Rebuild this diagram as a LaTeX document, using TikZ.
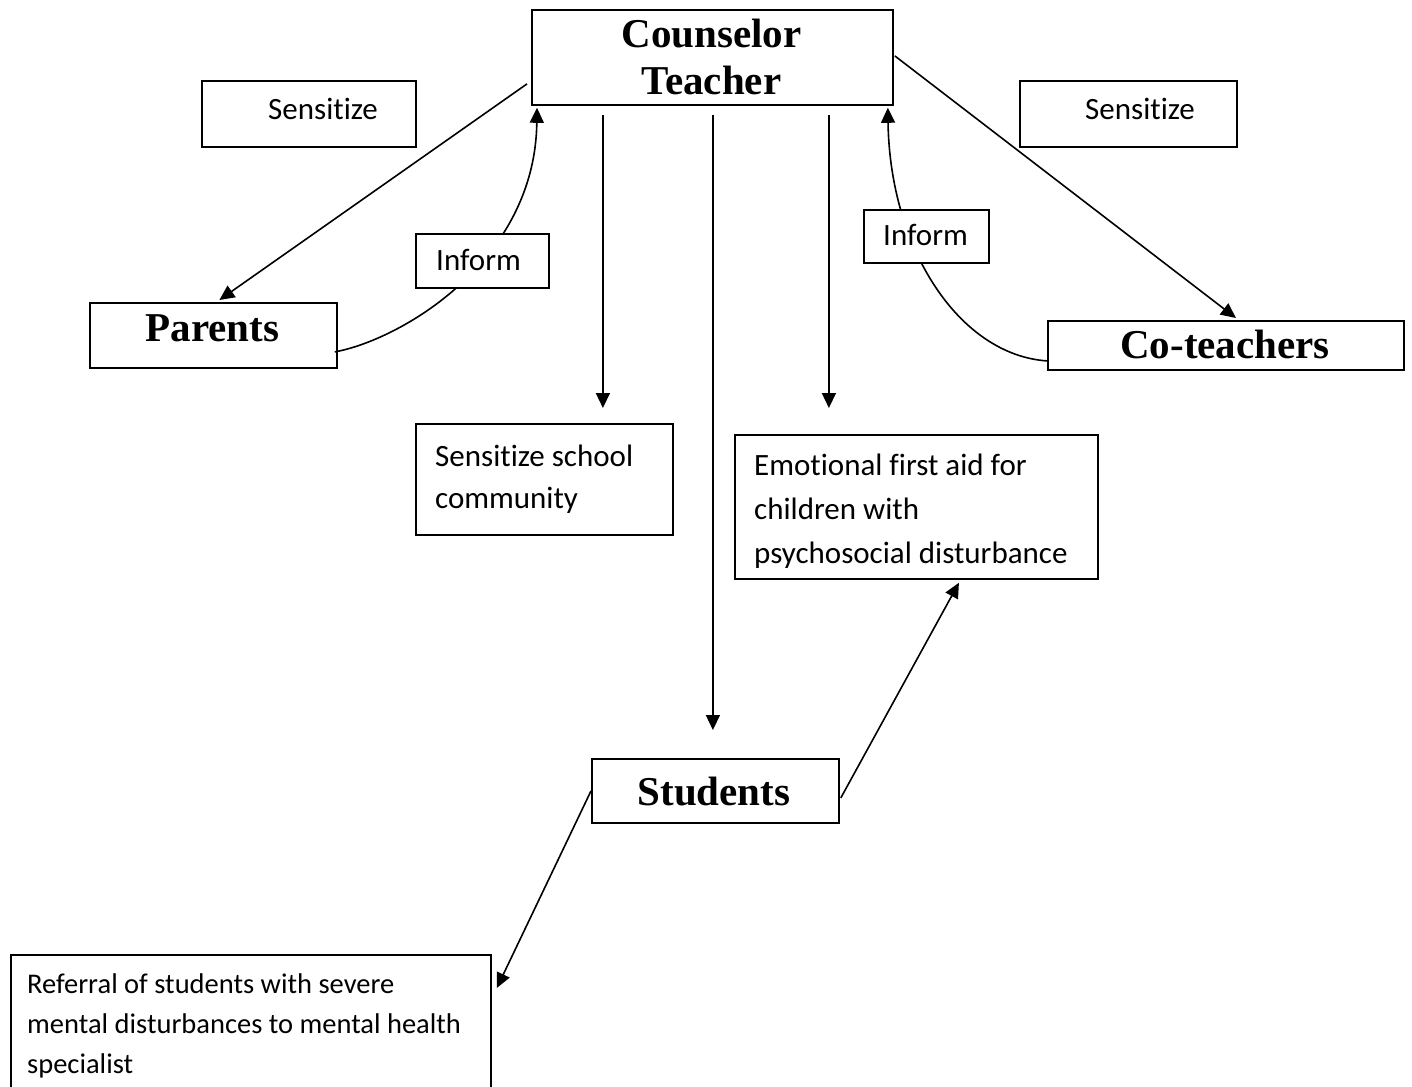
\documentclass[tikz,border=0pt]{standalone}
\usepackage{fontspec}
\setmainfont{Carlito}[Ligatures=NoCommon]
\newfontfamily\tnr{Liberation Serif}
\usetikzlibrary{arrows.meta}
\begin{document}
\begin{tikzpicture}[x=1pt,y=-1pt,
  box/.style={draw, line width=1.8pt, rectangle, inner sep=0pt, anchor=north west},
  wbox/.style={box, fill=white},
  cal/.style={font=\fontsize{31}{44}\selectfont, inner sep=0pt},
  calsm/.style={font=\fontsize{28.5}{40}\selectfont, inner sep=0pt},
  big/.style={font=\tnr\bfseries\fontsize{41}{47}\selectfont, inner sep=0pt},
  conn/.style={line width=1.6pt, -{Triangle[length=15pt,width=14pt]}},
  plain/.style={line width=1.6pt}]
\clip (0,0) rectangle (1412,1086);
\fill[white] (0,0) rectangle (1412,1086);

% boxes
\node[box, minimum width=361pt, minimum height=95pt] (cou) at (531,9) {};
\node[box, minimum width=214pt, minimum height=66pt] (senL) at (201,80) {};
\node[box, minimum width=217pt, minimum height=66pt] (senR) at (1019,80) {};
\node[box, minimum width=247pt, minimum height=65pt] (par) at (89,302) {};
\node[box, minimum width=356pt, minimum height=49pt] (cot) at (1047,320) {};
\node[box, minimum width=257pt, minimum height=111pt] (ssc) at (415,423) {};
\node[box, minimum width=363pt, minimum height=144pt] (efa) at (734,434) {};
\node[box, minimum width=247pt, minimum height=64pt] (stu) at (591,758) {};
\node[box, minimum width=480pt, minimum height=145pt] (ref) at (10,954) {};

% inform curves (drawn under the inform boxes)
\draw[conn] ([xshift=-3pt,yshift=-16.5pt]par.east)
  .. controls (400,340) and (535,262) .. ([xshift=6pt,yshift=-2pt]cou.south west);
\draw[conn] ([yshift=-15.5pt]cot.west)
  .. controls (960,355) and (890,250) .. ([xshift=-6pt,yshift=-2pt]cou.south east);

\node[wbox, minimum width=133pt, minimum height=54pt] (infL) at (415,233) {};
\node[wbox, minimum width=125pt, minimum height=53pt] (infR) at (863,209) {};

% texts
\node[big, anchor=base] (couT) at (711.5,48)
  {\begin{tabular}[t]{@{}c@{}}Counselor\\Teacher\end{tabular}};
\node[cal, anchor=base west] (senLT) at (268,120) {Sensitize};
\node[cal, anchor=base west] (senRT) at (1085,120) {Sensitize};
\node[cal, anchor=base west] (infLT) at (436,270) {Inform};
\node[cal, anchor=base west] (infRT) at (883,245) {Inform};
\node[big, anchor=base] (parT) at (212.5,341) {Parents};
\node[big, anchor=base] (cotT) at (1225,358) {Co-teachers};
\node[big, anchor=base] (stuT) at (714,805) {Students};
\node[cal, anchor=base west] (sscT) at (435,466)
  {\fontsize{31}{42}\selectfont\begin{tabular}[t]{@{}l@{}}Sensitize school\\community\end{tabular}};
\node[cal, anchor=base west] (efaT) at (754,475)
  {\begin{tabular}[t]{@{}l@{}}Emotional first aid for\\children with\\psychosocial disturbance\end{tabular}};
\node[calsm, anchor=base west] (refT) at (27,993)
  {\begin{tabular}[t]{@{}l@{}}Referral of students with severe\\mental disturbances to mental health\\specialist\end{tabular}};

% connectors
\draw[conn] ([xshift=-4pt,yshift=-26.5pt]cou.west) -- ([xshift=6pt,yshift=2pt]par.north);
\draw[conn] ([xshift=1pt,yshift=1.5pt]cou.east) -- ([xshift=10pt,yshift=2pt]cot.north);
\draw[conn] ([xshift=-109.5pt,yshift=-9pt]cou.south) -- ([xshift=58.5pt,yshift=15pt]ssc.north);
\draw[conn] ([xshift=0.5pt,yshift=-9pt]cou.south) -- ([xshift=-2.5pt,yshift=28pt]stu.north);
\draw[conn] ([xshift=116.5pt,yshift=-9pt]cou.south) -- ([xshift=-87.5pt,yshift=26pt]efa.north);
\draw[conn] ([xshift=1pt,yshift=-7pt]stu.east) -- ([xshift=42.5pt,yshift=-3pt]efa.south);
\draw[conn] (stu.west) -- ([xshift=5pt,yshift=-34pt]ref.north east);
\end{tikzpicture}
\end{document}
